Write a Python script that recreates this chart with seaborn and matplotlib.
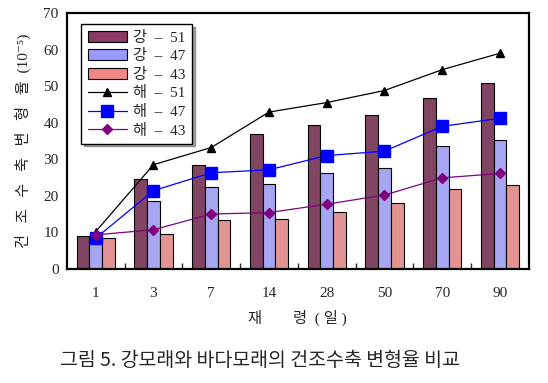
import matplotlib
matplotlib.use('Agg')
import matplotlib.pyplot as plt
import seaborn as sns
import pandas as pd
import numpy as np

sns.set_style('white')
plt.rcParams['font.family'] = ['Liberation Serif', 'Noto Sans CJK KR', 'DejaVu Serif']

# 재령 (일)
ages = ['1', '3', '7', '14', '28', '50', '70', '90']

# 강모래 (bars)
river_51 = [8.9, 24.6, 28.5, 37.0, 39.3, 42.0, 46.8, 50.8]
river_47 = [7.6, 18.5, 22.5, 23.1, 26.3, 27.5, 33.5, 35.2]
river_43 = [8.4, 9.5, 13.3, 13.6, 15.6, 17.9, 21.9, 22.9]

# 바다모래 (lines)
sea_51 = [10.2, 28.5, 33.2, 42.9, 45.5, 48.8, 54.5, 59.0]
sea_47 = [8.4, 21.4, 26.3, 27.1, 31.0, 32.2, 39.0, 41.2]
sea_43 = [9.3, 10.7, 15.0, 15.4, 17.7, 20.2, 24.9, 26.1]

bar_names = ['강  –  51', '강  –  47', '강  –  43']
line_names = ['해  –  51', '해  –  47', '해  –  43']
bar_colors = ['#8B3A62', '#9999FF', '#F08784']

df = pd.DataFrame({
    'age': ages * 3,
    'val': river_51 + river_47 + river_43,
    'series': [n for n in bar_names for _ in ages],
})

fig = plt.figure(figsize=(5.48, 3.83), dpi=100)
ax = fig.add_axes([0.122, 0.298, 0.843, 0.668])

sns.barplot(data=df, x='age', y='val', hue='series', order=ages,
            hue_order=bar_names, palette=bar_colors, width=0.66,
            edgecolor='black', linewidth=0.8, ax=ax, legend=False)

pos = np.arange(len(ages))
ax.plot(pos, sea_51, color='black', lw=0.9, marker='^', ms=6, label=line_names[0])
ax.plot(pos, sea_47, color='#0000FF', lw=0.9, marker='s', ms=8, label=line_names[1])
ax.plot(pos, sea_43, color='#800080', lw=0.9, marker='D', ms=5, label=line_names[2])

ax.set_ylim(0, 70)
ax.set_xlim(-0.5, len(ages) - 0.5)
ax.set_yticks(range(0, 71, 10))
ax.tick_params(axis='y', direction='in', length=4, width=1, labelsize=11, pad=6)
ax.tick_params(axis='x', length=0, labelsize=11, pad=13)
ax.set_xticks(np.arange(0.5, len(ages) - 1, 1), minor=True)
ax.tick_params(axis='x', which='minor', direction='in', length=4, width=1, bottom=True)

for sp in ax.spines.values():
    sp.set_linewidth(1.6)
    sp.set_color('black')

ax.set_xlabel('재        령  ( 일 )', fontsize=11, labelpad=7)
ax.set_ylabel('건   조   수   축   변   형   율  (10⁻⁵)', fontsize=11, labelpad=9)

handles = [plt.Rectangle((0, 0), 1, 1, fc=c, ec='black', lw=0.8) for c in bar_colors]
lh, ll = ax.get_legend_handles_labels()
leg = ax.legend(handles + lh, bar_names + ll, loc='upper left',
                bbox_to_anchor=(0.015, 0.985), fontsize=11, frameon=True,
                shadow=True, fancybox=False, edgecolor='black',
                handlelength=2.6, handletextpad=0.4, labelspacing=0.3,
                borderpad=0.4)
leg.get_frame().set_linewidth(1.0)

fig.text(0.11, 0.06, '그림 5. 강모래와 바다모래의 건조수축 변형율 비교',
         fontsize=14, va='center', family=['Noto Sans CJK KR', 'DejaVu Sans'])

fig.savefig('out.png', dpi=100)
